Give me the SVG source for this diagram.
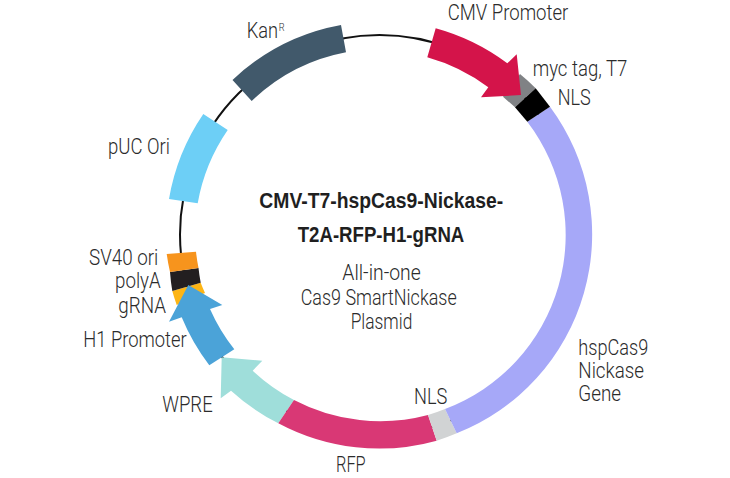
<svg xmlns="http://www.w3.org/2000/svg" width="730" height="478" viewBox="0 0 730 478">
  <style>
    text { font-family: Roboto, "Liberation Sans", sans-serif; font-weight: 300; fill: #2b2b2b; font-size: 22px; }
    .title { font-family: "Liberation Sans", Arial, sans-serif; font-weight: 700; fill: #1f1f1f; font-size: 22.5px; }
    .sup { font-size: 11.5px; }
    .seg { stroke: none; }
  </style>
  <rect width="730" height="478" fill="#ffffff"/>
  <g id="connectors">
    <circle cx="379.5" cy="234.5" r="199.5" fill="none" stroke="#111111" stroke-width="2"/>
  </g>
  <g id="kan"><path class="seg" fill="#41596b" d="M232.500 80 A214 214 0 0 1 341 25 L346 52.300 A186 186 0 0 0 251.700 101 Z"/><text transform="translate(246.700 37.700) scale(0.83 1)">Kan</text><text transform="translate(278.800 30.700) scale(0.8 1)" class="sup">R</text></g>
  <g id="puc"><path class="seg" fill="#6dcff6" d="M203.300 114 A214 214 0 0 0 169 199 L197.700 203.300 A186 186 0 0 1 227.700 130 Z"/><text x="108" y="154.300" textLength="62" lengthAdjust="spacingAndGlyphs">pUC Ori</text></g>
  <g id="gRNA"><path class="seg" fill="#fdb515" d="M172.300 291 A214 214 0 0 0 176.700 305 L205 293 A186 186 0 0 1 200.700 282.700 Z"/><text x="118.300" y="313.300" textLength="47.700" lengthAdjust="spacingAndGlyphs">gRNA</text></g>
  <g id="polyA"><path class="seg" fill="#231f20" d="M170 272 A214 214 0 0 0 172.300 291 L200.700 282.700 A186 186 0 0 1 198.500 268 Z"/><text x="115" y="288.300" textLength="45.700" lengthAdjust="spacingAndGlyphs">polyA</text></g>
  <g id="sv40"><path class="seg" fill="#f7941d" d="M166.700 254 A214 214 0 0 0 170 272 L198.500 268 A186 186 0 0 1 196 251.700 Z"/><text x="89" y="265" textLength="69.300" lengthAdjust="spacingAndGlyphs">SV40 ori</text></g>
  <g id="h1"><path class="seg" fill="#4ba3d8" d="M188.300 285 L222.300 305 L210 309 A186 186 0 0 0 234.300 349.300 L209.300 365.300 A214 214 0 0 1 181.700 317.300 L169 321.700 Z"/><text x="83.300" y="347.300" textLength="103.400" lengthAdjust="spacingAndGlyphs">H1 Promoter</text></g>
  <g id="wpre"><path class="seg" fill="#9fdeda" d="M221.700 357.300 L262.300 360.700 L252.700 370.700 A186 186 0 0 0 294 400 L278.300 423.300 A214 214 0 0 1 231 390.700 L220.700 398.300 Z"/><text x="162.300" y="411.700" textLength="50.400" lengthAdjust="spacingAndGlyphs">WPRE</text></g>
  <g id="rfp"><path class="seg" fill="#d93875" d="M294 400 A186 186 0 0 0 428 415 L436.700 440.700 A214 214 0 0 1 278.300 423.300 Z"/><text x="336" y="471.700" textLength="29.700" lengthAdjust="spacingAndGlyphs">RFP</text></g>
  <g id="nls-lower"><path class="seg" fill="#d1d3d4" d="M428 415 A186 186 0 0 0 445 409 L456.700 433.300 A214 214 0 0 1 436.700 440.700 Z"/><text x="414" y="404.300" textLength="33.300" lengthAdjust="spacingAndGlyphs">NLS</text></g>
  <g id="hspcas9"><path class="seg" fill="#a6a8f8" d="M445 409 A186 186 0 0 0 527.300 121.700 L550 106.700 A214 214 0 0 1 456.700 433.300 Z"/><text x="578.300" y="355" textLength="70" lengthAdjust="spacingAndGlyphs">hspCas9</text><text x="578.300" y="378.300" textLength="65.700" lengthAdjust="spacingAndGlyphs">Nickase</text><text x="578.300" y="401" textLength="42.700" lengthAdjust="spacingAndGlyphs">Gene</text></g>
  <g id="myc"><path class="seg" fill="#808285" d="M503 96.700 L520 74 A214 214 0 0 1 535.700 88.300 L515 107.300 Z"/><text x="532.700" y="76" textLength="94.600" lengthAdjust="spacingAndGlyphs">myc tag, T7</text></g>
  <g id="nls-upper"><path class="seg" fill="#000000" d="M515 107.300 L535.700 88.300 L550 106.700 L527.300 121.700 Z"/><text x="557.700" y="105" textLength="33" lengthAdjust="spacingAndGlyphs">NLS</text></g>
  <g id="cmv"><path class="seg" fill="#d4144a" d="M435.700 28.300 A214 214 0 0 1 507.300 63.300 L516.700 54.300 L521 95 L481 97.300 L488.300 87.300 A186 186 0 0 0 427.300 57.300 Z"/><text x="447.700" y="20" textLength="120.600" lengthAdjust="spacingAndGlyphs">CMV Promoter</text></g>
  <g id="caption">
    <text x="259.300" y="208.300" class="title" textLength="244" lengthAdjust="spacingAndGlyphs">CMV-T7-hspCas9-Nickase-</text>
    <text x="297.700" y="241.700" class="title" textLength="166.600" lengthAdjust="spacingAndGlyphs">T2A-RFP-H1-gRNA</text>
    <text x="342.300" y="280" textLength="78.400" lengthAdjust="spacingAndGlyphs">All-in-one</text>
    <text x="300.700" y="305" textLength="156" lengthAdjust="spacingAndGlyphs">Cas9 SmartNickase</text>
    <text x="350.700" y="329.300" textLength="61.600" lengthAdjust="spacingAndGlyphs">Plasmid</text>
  </g>
</svg>
